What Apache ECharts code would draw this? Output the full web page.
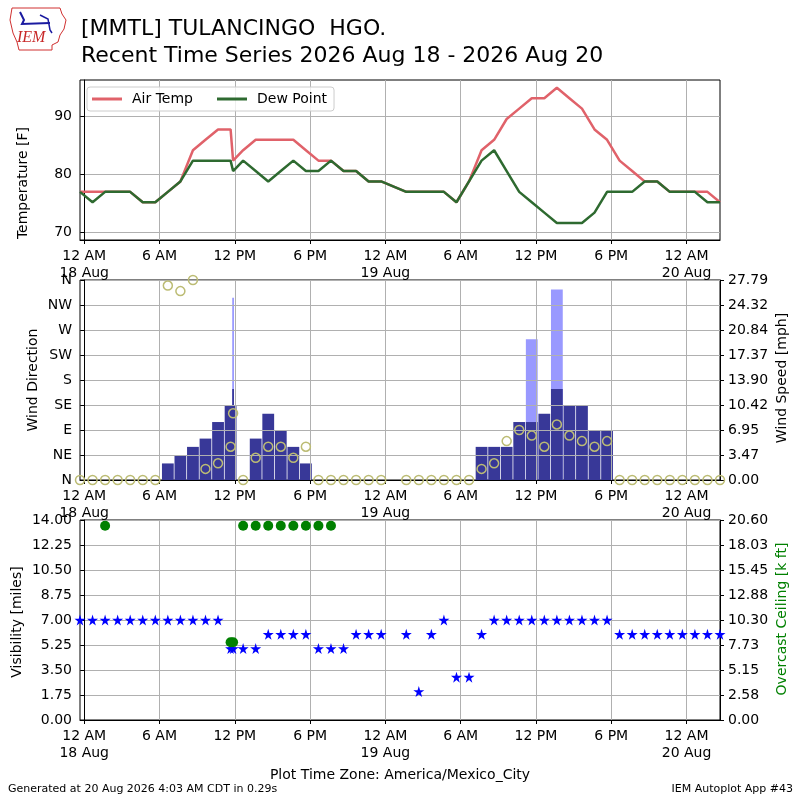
<!DOCTYPE html>
<html lang="en">
<head>
<meta charset="UTF-8">
<title>MMTL Recent Time Series</title>
<style>
    html, body { margin: 0; padding: 0; background: #fff; }
    #main { width: 800px; height: 800px; }
</style>
</head>
<body>
<div id="main"></div>
<script src="https://cdn.jsdelivr.net/npm/echarts@6.0.0/dist/echarts.min.js"></script>
<script>
// observation times, local (America/Mexico_City), "day hh:mm", Aug 2026
const obsTime = [
    '17 23:40', '18 00:40', '18 01:40', '18 02:40', '18 03:40', '18 04:40', '18 05:40',
    '18 06:40', '18 07:40', '18 08:40', '18 09:40', '18 10:40', '18 11:40', '18 11:52',
    '18 12:40', '18 13:40', '18 14:40', '18 15:40', '18 16:40', '18 17:40', '18 18:40',
    '18 19:40', '18 20:40', '18 21:40', '18 22:40', '18 23:40',
    '19 01:40', '19 02:40', '19 03:40', '19 04:40', '19 05:40', '19 06:40', '19 07:40',
    '19 08:40', '19 09:40', '19 10:40', '19 11:40', '19 12:40', '19 13:40', '19 14:40',
    '19 15:40', '19 16:40', '19 17:40', '19 18:40', '19 19:40', '19 20:40', '19 21:40',
    '19 22:40', '19 23:40', '20 00:40', '20 01:40', '20 02:40'
];
const tmpf = [
    77, 77, 77, 77, 77, 75.2, 75.2, 77, 78.8, 84.2, 86, 87.8, 87.8, 82.4,
    84.2, 86, 86, 86, 86, 84.2, 82.4, 82.4, 80.6, 80.6, 78.8, 78.8,
    77, 77, 77, 77, 75.2, 78.8, 84.2, 86, 89.6, 91.4, 93.2, 93.2, 95, 93.2,
    91.4, 87.8, 86, 82.4, 80.6, 78.8, 78.8, 77, 77, 77, 77, 75.2
];
const dwpf = [
    77, 75.2, 77, 77, 77, 75.2, 75.2, 77, 78.8, 82.4, 82.4, 82.4, 82.4, 80.6,
    82.4, 80.6, 78.8, 80.6, 82.4, 80.6, 80.6, 82.4, 80.6, 80.6, 78.8, 78.8,
    77, 77, 77, 77, 75.2, 78.8, 82.4, 84.2, 80.6, 77, 75.2, 73.4, 71.6, 71.6,
    71.6, 73.4, 77, 77, 77, 78.8, 78.8, 77, 77, 77, 75.2, 75.2
];
// wind speed and gust, knots
const sknt = [
    0, 0, 0, 0, 0, 0, 0, 2, 3, 4, 5, 7, 9, 11,
    0, 5, 8, 6, 4, 2, 0, 0, 0, 0, 0, 0,
    0, 0, 0, 0, 0, 0, 4, 4, 4, 7, 7, 8, 11, 9,
    9, 6, 6, 0, 0, 0, 0, 0, 0, 0, 0, 0
];
const gust = [
    null, null, null, null, null, null, null, null, null, null, null, null, null, 22,
    null, null, null, null, null, null, null, null, null, null, null, null,
    null, null, null, null, null, null, null, null, null, null, 17, null, 23, null,
    null, null, null, null, null, null, null, null, null, null, null, null
];
const drct = [
    0, 0, 0, 0, 0, 0, 0, 350, 340, 360, 20, 30, 60, 120,
    0, 40, 60, 60, 40, 60, 0, 0, 0, 0, 0, 0,
    0, 0, 0, 0, 0, 0, 20, 30, 70, 90, 80, 60, 100, 80,
    70, 60, 70, 0, 0, 0, 0, 0, 0, 0, 0, 0
];
// visibility, miles
const vsby = [
    7, 7, 7, 7, 7, 7, 7, 7, 7, 7, 7, 7, 5, 5,
    5, 5, 6, 6, 6, 6, 5, 5, 5, 6, 6, 6,
    6, 2, 6, 7, 3, 3, 6, 7, 7, 7, 7, 7, 7, 7,
    7, 7, 7, 6, 6, 6, 6, 6, 6, 6, 6, 6
];
// overcast ceiling, thousands of feet
const ceil = [
    null, null, 20, null, null, null, null, null, null, null, null, null, 8, 8,
    20, 20, 20, 20, 20, 20, 20, 20, null, null, null, null,
    null, null, null, null, null, null, null, null, null, null, null, null, null, null,
    null, null, null, null, null, null, null, null, null, null, null, null
];
const tickHours = [0, 6, 12, 18, 24, 30, 36, 42, 48];
const tempTicks = [70, 80, 90];
const dirLabels = ['N', 'NE', 'E', 'SE', 'S', 'SW', 'W', 'NW', 'N'];

const KT2MPH = 1.15078;
const FONT = 'DejaVu Sans';

// hours since 18 Aug 00:00 local
const hours = obsTime.map(function (s) {
    const p = s.split(' ');
    const hm = p[1].split(':');
    return (parseInt(p[0], 10) - 18) * 24 + parseInt(hm[0], 10) + parseInt(hm[1], 10) / 60;
});
const xMin = hours[0];
const xMax = hours[hours.length - 1];

function pairs(vals) {
    return hours.map(function (h, i) { return [h, vals[i]]; })
        .filter(function (d) { return d[1] !== null; });
}

// bar width: one hour, or less when the previous report is closer
function barData(vals) {
    const out = [];
    hours.forEach(function (h, i) {
        if (vals[i] === null || vals[i] === 0) return;
        const prev = i > 0 ? h - hours[i - 1] : 1;
        const w = Math.min(1, prev) - 0.06;
        out.push([h, vals[i] * KT2MPH, w]);
    });
    return out;
}

const gustMph = gust.filter(function (v) { return v !== null; }).map(function (v) { return v * KT2MPH; });
const spdMax = Math.max.apply(null, gustMph) * 1.05;
const visMax = Math.max.apply(null, vsby) * 2;
const ceilMax = Math.max.apply(null, ceil.filter(function (v) { return v !== null; })) * 1.03;
const spdTicks = [0, 1, 2, 3, 4, 5, 6, 7, 8].map(function (i) { return spdMax * i / 8; });
const ceilTicks = [0, 1, 2, 3, 4, 5, 6, 7, 8].map(function (i) { return ceilMax * i / 8; });

function timeLabel(v) {
    const h = Math.round(v);
    const hh = ((h % 24) + 24) % 24;
    const txt = hh === 0 ? '12 AM' : hh === 6 ? '6 AM' : hh === 12 ? '12 PM' : '6 PM';
    if (hh === 0) return txt + '\n' + (18 + h / 24) + ' Aug';
    return txt;
}

const gridLine = { show: true, lineStyle: { color: '#b0b0b0', width: 1 } };
const axLine = { show: true, lineStyle: { color: '#000', width: 1 } };
const axTick = { show: true, length: 4, lineStyle: { color: '#000' } };
const axLabel = { color: '#000', fontSize: 14, fontFamily: FONT, margin: 8 };

function timeAxis(gi, z) {
    return {
        type: 'value', gridIndex: gi, min: xMin, max: xMax, z: z || 0,
        axisLine: axLine,
        axisTick: Object.assign({ customValues: tickHours }, axTick),
        axisLabel: Object.assign({}, axLabel, { customValues: tickHours, formatter: timeLabel, lineHeight: 17, margin: 8 }),
        splitLine: gridLine
    };
}

function barSeries(vals, color, z) {
    return {
        type: 'custom', xAxisIndex: 1, yAxisIndex: 2, z: z, clip: true,
        data: barData(vals),
        renderItem: function (params, api) {
            const x = api.value(0), v = api.value(1), w = api.value(2);
            const p0 = api.coord([x - w / 2, 0]);
            const p1 = api.coord([x + w / 2, v]);
            return {
                type: 'rect',
                shape: { x: p0[0], y: p1[1], width: p1[0] - p0[0], height: p0[1] - p1[1] },
                style: { fill: color }
            };
        }
    };
}

const star = 'path://M50,0 L61,35 L98,35 L68,57 L79,91 L50,70 L21,91 L32,57 L2,35 L39,35 Z';

function sideText(x, y, txt, color) {
    return {
        type: 'text', x: x, y: y, rotation: Math.PI / 2,
        style: {
            text: txt, fill: color || '#000', font: '14px "DejaVu Sans"',
            textAlign: 'center', textVerticalAlign: 'middle'
        }
    };
}

const chart = echarts.init(document.getElementById('main'));
const option = {
    animation: false,
    backgroundColor: '#fff',
    grid: [
        { left: 80, top: 80, width: 640, height: 160, show: true, borderColor: '#000', borderWidth: 1 },
        { left: 80, top: 280, width: 640, height: 200, show: true, borderColor: '#000', borderWidth: 1 },
        { left: 80, top: 520, width: 640, height: 200, show: true, borderColor: '#000', borderWidth: 1 }
    ],
    legend: {
        data: ['Air Temp', 'Dew Point'],
        left: 87, top: 87,
        icon: 'rect', itemWidth: 30, itemHeight: 3, itemGap: 24,
        padding: [4, 7, 4, 5], borderColor: '#cccccc', borderWidth: 1, borderRadius: 3,
        backgroundColor: 'rgba(255,255,255,0.8)',
        textStyle: { color: '#000', fontSize: 14, fontFamily: FONT, padding: [0, 0, 0, 5], lineHeight: 16 }
    },
    xAxis: [timeAxis(0), timeAxis(1, 3), timeAxis(2)],
    yAxis: [
        {
            type: 'value', gridIndex: 0, min: 68.67, max: 96.35,
            axisLine: axLine,
            axisTick: Object.assign({ customValues: tempTicks }, axTick),
            axisLabel: Object.assign({ customValues: tempTicks }, axLabel),
            splitLine: gridLine
        },
        {
            type: 'value', gridIndex: 1, min: 0, max: 360, interval: 45, z: 3,
            axisLine: axLine, axisTick: axTick,
            axisLabel: Object.assign({ formatter: function (v) { return dirLabels[Math.round(v / 45)]; } }, axLabel),
            splitLine: gridLine
        },
        {
            type: 'value', gridIndex: 1, position: 'right', min: 0, max: spdMax, z: 3,
            axisLine: axLine,
            axisTick: Object.assign({ customValues: spdTicks }, axTick),
            axisLabel: Object.assign({ customValues: spdTicks, formatter: function (v) { return v.toFixed(2); } }, axLabel),
            splitLine: { show: false }
        },
        {
            type: 'value', gridIndex: 2, min: 0, max: visMax, interval: visMax / 8,
            axisLine: axLine, axisTick: axTick,
            axisLabel: Object.assign({ formatter: function (v) { return v.toFixed(2); } }, axLabel),
            splitLine: gridLine
        },
        {
            type: 'value', gridIndex: 2, position: 'right', min: 0, max: ceilMax,
            axisLine: axLine,
            axisTick: Object.assign({ customValues: ceilTicks }, axTick),
            axisLabel: Object.assign({ customValues: ceilTicks, formatter: function (v) { return v.toFixed(2); } }, axLabel),
            splitLine: { show: false }
        }
    ],
    series: [
        {
            name: 'Air Temp', type: 'line', xAxisIndex: 0, yAxisIndex: 0,
            showSymbol: false, color: '#e0626a', lineStyle: { width: 2.5 },
            data: pairs(tmpf)
        },
        {
            name: 'Dew Point', type: 'line', xAxisIndex: 0, yAxisIndex: 0,
            showSymbol: false, color: '#2e6a30', lineStyle: { width: 2.5 },
            data: pairs(dwpf)
        },
        barSeries(gust, '#9999ff', 1),
        barSeries(sknt, '#383898', 2),
        {
            name: 'Wind Direction', type: 'scatter', xAxisIndex: 1, yAxisIndex: 1, z: 5,
            symbol: 'circle', symbolSize: 9,
            itemStyle: { color: 'rgba(0,0,0,0)', borderColor: '#bcbc74', borderWidth: 1.5, opacity: 1 },
            data: pairs(drct)
        },
        {
            name: 'Visibility', type: 'scatter', xAxisIndex: 2, yAxisIndex: 3,
            symbol: star, symbolSize: 11, itemStyle: { color: '#0000ff', opacity: 1 },
            data: pairs(vsby)
        },
        {
            name: 'Ceiling', type: 'scatter', xAxisIndex: 2, yAxisIndex: 4, z: 4,
            symbol: 'circle', symbolSize: 10, itemStyle: { color: '#008000', opacity: 1 },
            data: pairs(ceil)
        }
    ],
    graphic: [
        // IEM logo (rough)
        {
            type: 'polyline', silent: true,
            shape: { points: [[12, 8], [60, 8], [62, 14], [66, 20], [64, 29], [60, 35], [58, 42], [52, 45], [52, 50], [19, 50], [17, 42], [13, 33], [10, 20], [12, 8]] },
            style: { stroke: '#d03030', fill: 'none', lineWidth: 1 }
        },
        {
            type: 'polyline', silent: true,
            shape: { points: [[20, 12], [24, 20], [22, 24], [50, 23]] },
            style: { stroke: '#1a1aa0', fill: 'none', lineWidth: 2 }
        },
        {
            type: 'polyline', silent: true,
            shape: { points: [[40, 15], [48, 19], [50, 30], [52, 33]] },
            style: { stroke: '#1a1aa0', fill: 'none', lineWidth: 1.5 }
        },
        {
            type: 'text', x: 17, y: 30,
            style: { text: 'IEM', fill: '#c82828', font: 'italic 16px "Liberation Serif"' }
        },
        {
            type: 'text', x: 81, y: 29,
            style: { text: '[MMTL] TULANCINGO  HGO.', fill: '#000', font: '22px "DejaVu Sans"', textVerticalAlign: 'middle' }
        },
        {
            type: 'text', x: 81, y: 56,
            style: { text: 'Recent Time Series 2026 Aug 18 - 2026 Aug 20', fill: '#000', font: '22px "DejaVu Sans"', textVerticalAlign: 'middle' }
        },
        sideText(23, 183, 'Temperature [F]'),
        sideText(33, 380, 'Wind Direction'),
        sideText(782, 378, 'Wind Speed [mph]'),
        sideText(17, 622, 'Visibility [miles]'),
        sideText(782, 619, 'Overcast Ceiling [k ft]', '#008000'),
        {
            type: 'text', x: 400, y: 775,
            style: { text: 'Plot Time Zone: America/Mexico_City', fill: '#000', font: '14px "DejaVu Sans"', textAlign: 'center', textVerticalAlign: 'middle' }
        },
        {
            type: 'text', x: 8, y: 789,
            style: { text: 'Generated at 20 Aug 2026 4:03 AM CDT in 0.29s', fill: '#000', font: '11px "DejaVu Sans"', textVerticalAlign: 'middle' }
        },
        {
            type: 'text', x: 793, y: 789,
            style: { text: 'IEM Autoplot App #43', fill: '#000', font: '11px "DejaVu Sans"', textAlign: 'right', textVerticalAlign: 'middle' }
        }
    ]
};
chart.setOption(option);
</script>
</body>
</html>
